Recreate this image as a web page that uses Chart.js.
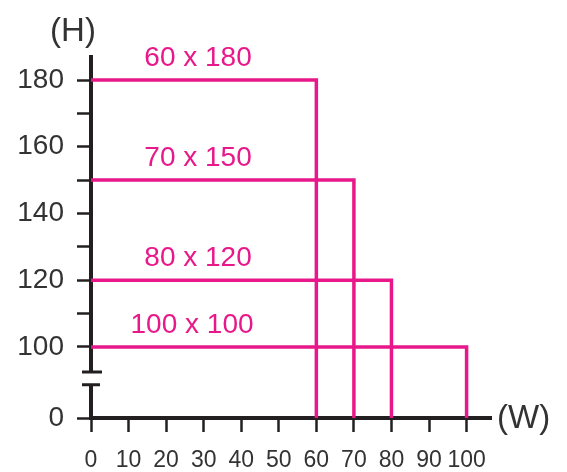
<!DOCTYPE html>
<html>
<head>
<meta charset="utf-8">
<script src="https://cdn.jsdelivr.net/npm/chart.js@4.4.1/dist/chart.umd.min.js"></script>
<style>
  html, body { margin: 0; padding: 0; background: #fff; }
  #wrap { width: 567px; height: 472px; }
</style>
</head>
<body>
<div id="wrap"><canvas id="sizeChart"></canvas></div>
<script>
// sizes (W x H)
var widths = [60, 70, 80, 100];
var heights = [180, 150, 120, 100];
var xTicks = [0, 10, 20, 30, 40, 50, 60, 70, 80, 90, 100];
var yTicks = [0, 100, 120, 140, 160, 180];
var yMinorTicks = [110, 130, 150, 170];

// the y axis is broken between 0 and 100: 0 is drawn just below 100
var ZERO_AT = 78.7;
var BREAK_TOP = 92.5, BREAK_BOTTOM = 88.7;
function yPos(v) { return v === 0 ? ZERO_AT : v; }

var pink = '#e8188a';
var ink = '#231f20';
var textGray = '#333333';

var datasets = widths.map(function (w, i) {
    var h = heights[i];
    return {
        label: w + ' x ' + h,
        data: [{ x: 0, y: yPos(h) }, { x: w, y: yPos(h) }, { x: w, y: yPos(0) }],
        showLine: true,
        borderColor: pink,
        borderWidth: 3.5,
        pointRadius: 0,
        fill: false,
        tension: 0
    };
});

// labels over each rectangle, axis names and the break mark
var extras = {
    id: 'extras',
    afterDraw: function (chart) {
        var ctx = chart.ctx;
        var xs = chart.scales.x, ys = chart.scales.y;
        ctx.save();

        // break in the y axis
        var x0 = xs.getPixelForValue(0);
        var yTop = ys.getPixelForValue(BREAK_TOP);
        var yBot = ys.getPixelForValue(BREAK_BOTTOM);
        ctx.fillStyle = '#fff';
        ctx.fillRect(x0 - 4, yTop, 8, yBot - yTop);
        ctx.strokeStyle = ink;
        ctx.lineWidth = 3;
        ctx.beginPath();
        ctx.moveTo(x0 - 9, yTop); ctx.lineTo(x0 + 11, yTop);
        ctx.moveTo(x0 - 9, yBot); ctx.lineTo(x0 + 9, yBot);
        ctx.stroke();

        // rectangle captions
        ctx.fillStyle = pink;
        ctx.font = '28px "Liberation Sans", Arial, sans-serif';
        ctx.textAlign = 'center';
        ctx.textBaseline = 'middle';
        widths.forEach(function (w, i) {
            var h = heights[i];
            ctx.fillText(w + ' x ' + h, xs.getPixelForValue(28.5) - (h === 100 ? 6 : 0), ys.getPixelForValue(h) - 22);
        });

        // axis names
        ctx.fillStyle = textGray;
        ctx.font = '33px "Liberation Sans", Arial, sans-serif';
        ctx.fillText('(H)', 73, 32);
        ctx.textAlign = 'left';
        ctx.fillText('(W)', 497, 419);
        ctx.restore();
    }
};

var ctx = document.getElementById('sizeChart').getContext('2d');
var sizeChart = new Chart(ctx, {
    type: 'scatter',
    data: { datasets: datasets },
    options: {
        responsive: true,
        maintainAspectRatio: false,
        animation: false,
        layout: { padding: { left: 0, right: 76, top: 57, bottom: 0 } },
        plugins: {
            legend: { display: false },
            tooltip: { enabled: false }
        },
        scales: {
            x: {
                type: 'linear',
                min: 0,
                max: 106.5,
                afterBuildTicks: function (scale) {
                    scale.ticks = xTicks.map(function (v) { return { value: v }; });
                },
                afterFit: function (scale) { scale.height = 54; },
                ticks: {
                    color: textGray,
                    font: { family: '"Liberation Sans", Arial, sans-serif', size: 23 },
                    padding: 15,
                    maxRotation: 0,
                    autoSkip: false
                },
                grid: {
                    drawOnChartArea: false,
                    tickLength: 14,
                    tickWidth: 2.5,
                    tickColor: ink
                },
                border: { display: true, color: ink, width: 4 }
            },
            y: {
                type: 'linear',
                min: ZERO_AT,
                max: 186.9,
                afterBuildTicks: function (scale) {
                    var vals = yTicks.concat(yMinorTicks).map(yPos).sort(function (a, b) { return a - b; });
                    scale.ticks = vals.map(function (v) { return { value: v }; });
                },
                afterFit: function (scale) { scale.width = 91; },
                ticks: {
                    color: textGray,
                    font: { family: '"Liberation Sans", Arial, sans-serif', size: 28 },
                    padding: 13,
                    autoSkip: false,
                    callback: function (value) {
                        if (value === ZERO_AT) return '0';
                        return yTicks.indexOf(value) >= 0 ? String(value) : '';
                    }
                },
                grid: {
                    drawOnChartArea: false,
                    tickLength: 14,
                    tickWidth: 2.5,
                    tickColor: ink
                },
                border: { display: true, color: ink, width: 4 }
            }
        }
    },
    plugins: [extras]
});
</script>
</body>
</html>
